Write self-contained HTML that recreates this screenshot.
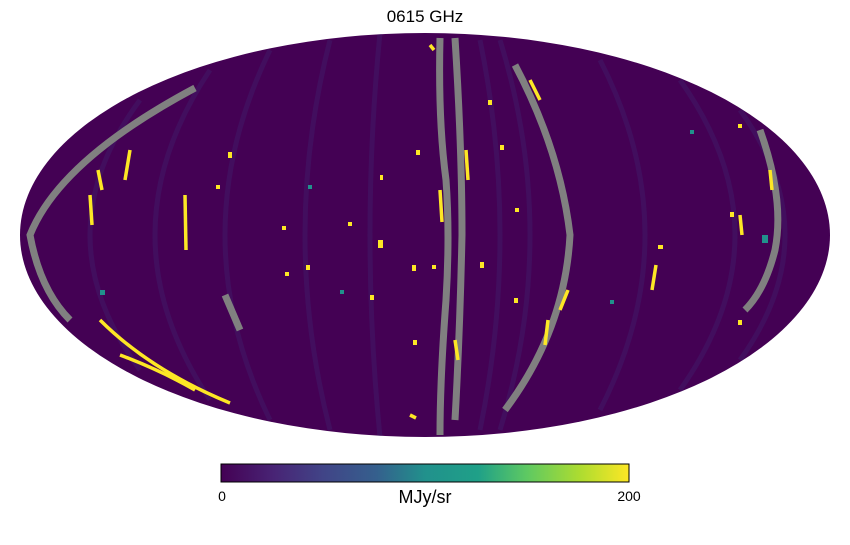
<!DOCTYPE html>
<html><head><meta charset="utf-8"><style>
body{margin:0;background:#fff;width:850px;height:540px;overflow:hidden}
</style></head><body>
<svg width="850" height="540" viewBox="0 0 850 540" xmlns="http://www.w3.org/2000/svg">
<defs>
<clipPath id="c"><ellipse cx="425" cy="235" rx="405" ry="202"/></clipPath>
<linearGradient id="v" x1="0" x2="1" y1="0" y2="0">
<stop offset="0" stop-color="#440154"/><stop offset="0.13" stop-color="#482475"/>
<stop offset="0.25" stop-color="#414487"/><stop offset="0.38" stop-color="#355f8d"/>
<stop offset="0.5" stop-color="#21918c"/><stop offset="0.63" stop-color="#1fa088"/>
<stop offset="0.75" stop-color="#5ec962"/><stop offset="0.88" stop-color="#addc30"/>
<stop offset="1" stop-color="#fde725"/></linearGradient>
</defs>
<text x="425" y="22" font-family="Liberation Sans, sans-serif" font-size="17" text-anchor="middle">0615 GHz</text>
<ellipse cx="425" cy="235" rx="405" ry="202" fill="#440154"/>
<g clip-path="url(#c)" fill="none">
<g stroke="#3b3f83" stroke-opacity="0.22" stroke-width="5">
<path d="M380 33 Q360 235 380 437"/><path d="M330 40 Q280 235 330 430"/>
<path d="M270 50 Q180 235 270 420"/><path d="M480 40 Q520 235 480 430"/>
<path d="M600 60 Q690 235 600 410"/><path d="M680 80 Q790 235 680 390"/>
<path d="M210 70 Q100 235 210 400"/><path d="M500 40 Q560 235 500 430"/>
<path d="M140 100 Q40 235 140 370"/><path d="M740 110 Q830 235 740 360"/>
</g>
<g stroke="#808080" stroke-width="7">
<path d="M440 38 Q438 120 446 180 Q450 235 446 300 Q440 380 440 435"/>
<path d="M455 38 Q462 150 462 235 Q460 330 455 420"/>
<path d="M515 65 Q560 150 570 235 Q565 330 505 410"/>
<path d="M195 88 Q60 160 30 235 Q40 290 70 320"/>
<path d="M760 130 Q785 200 775 250 Q765 290 745 310"/>
<path d="M225 295 L240 330"/>
</g>
<g stroke="#fde725" stroke-width="3.5">
<path d="M100 320 Q150 370 230 403"/>
<path d="M120 355 Q160 370 195 390"/>
<path d="M440 190 L442 222"/><path d="M466 150 L468 180"/>
<path d="M90 195 L92 225"/><path d="M130 150 L125 180"/>
<path d="M530 80 L540 100"/><path d="M548 320 L545 345"/>
<path d="M568 290 L560 310"/><path d="M98 170 L102 190"/>
<path d="M740 215 L742 235"/><path d="M656 265 L652 290"/>
<path d="M455 340 L458 360"/><path d="M410 415 L416 418"/>
<path d="M430 45 L434 50"/><path d="M185 195 L186 250"/>
<path d="M770 170 L772 190"/>
</g>
<g fill="#fde725">
<rect x="416" y="150" width="4" height="5"/><rect x="380" y="175" width="3" height="5"/>
<rect x="348" y="222" width="4" height="4"/><rect x="282" y="226" width="4" height="4"/>
<rect x="378" y="240" width="5" height="8"/><rect x="306" y="265" width="4" height="5"/>
<rect x="412" y="265" width="4" height="6"/><rect x="432" y="265" width="4" height="4"/>
<rect x="480" y="262" width="4" height="6"/><rect x="515" y="208" width="4" height="4"/>
<rect x="500" y="145" width="4" height="5"/><rect x="488" y="100" width="4" height="5"/>
<rect x="658" y="245" width="5" height="4"/><rect x="730" y="212" width="4" height="5"/>
<rect x="738" y="124" width="4" height="4"/><rect x="216" y="185" width="4" height="4"/>
<rect x="228" y="152" width="4" height="6"/><rect x="413" y="340" width="4" height="5"/>
<rect x="370" y="295" width="4" height="5"/><rect x="738" y="320" width="4" height="5"/>
<rect x="285" y="272" width="4" height="4"/><rect x="514" y="298" width="4" height="5"/>
</g>
<g fill="#21918c">
<rect x="308" y="185" width="4" height="4"/><rect x="762" y="235" width="6" height="8"/>
<rect x="100" y="290" width="5" height="5"/><rect x="340" y="290" width="4" height="4"/>
<rect x="690" y="130" width="4" height="4"/><rect x="610" y="300" width="4" height="4"/>
</g>
</g>
<rect x="221" y="464" width="408" height="18" fill="url(#v)" stroke="#000" stroke-width="1"/>
<g font-family="Liberation Sans, sans-serif" fill="#000">
<text x="222" y="501" font-size="14" text-anchor="middle">0</text>
<text x="629" y="501" font-size="14" text-anchor="middle">200</text>
<text x="425" y="503" font-size="18" text-anchor="middle">MJy/sr</text>
</g>
</svg>
</body></html>
